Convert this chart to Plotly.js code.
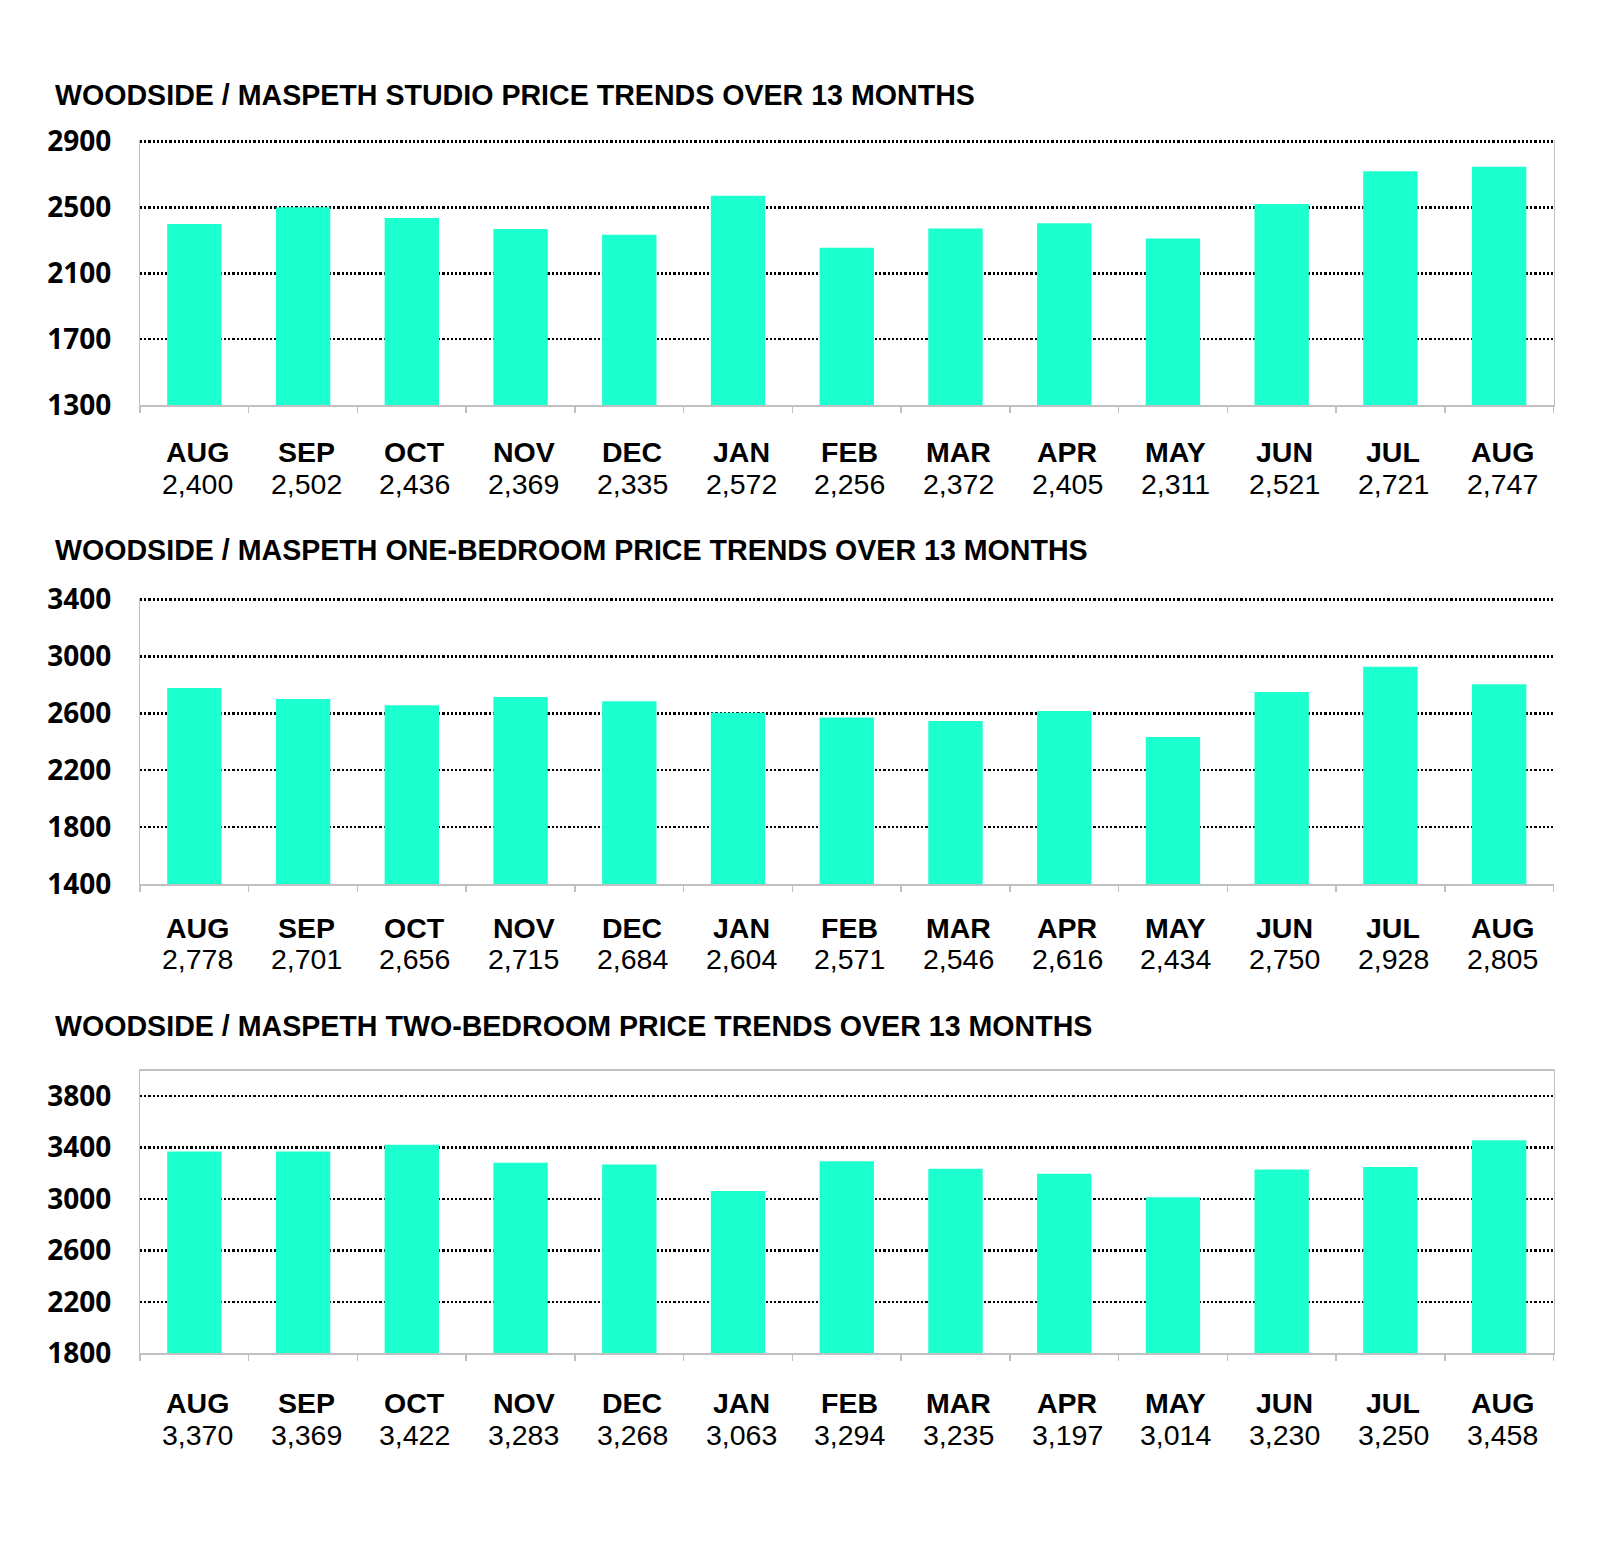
<!DOCTYPE html>
<html>
<head>
<meta charset="utf-8">
<script src="https://cdn.plot.ly/plotly-3.0.1.min.js"></script>
<style>html,body{margin:0;padding:0;background:#fff;}#chart{width:1600px;height:1547px;}</style>
</head>
<body>
<div id="chart"></div>
<script>
// ---- data ----
const months = ["AUG","SEP","OCT","NOV","DEC","JAN","FEB","MAR","APR","MAY","JUN","JUL","AUG"];
const studioPrices = [2400,2502,2436,2369,2335,2572,2256,2372,2405,2311,2521,2721,2747];
const oneBedPrices = [2778,2701,2656,2715,2684,2604,2571,2546,2616,2434,2750,2928,2805];
const twoBedPrices = [3370,3369,3422,3283,3268,3063,3294,3235,3197,3014,3230,3250,3458];
const titles = [
  "WOODSIDE / MASPETH STUDIO PRICE TRENDS OVER 13 MONTHS",
  "WOODSIDE / MASPETH ONE-BEDROOM PRICE TRENDS OVER 13 MONTHS",
  "WOODSIDE / MASPETH TWO-BEDROOM PRICE TRENDS OVER 13 MONTHS"
];
const yTicks1 = [1300,1700,2100,2500,2900];
const yTicks2 = [1400,1800,2200,2600,3000,3400];
const yTicks3 = [1800,2200,2600,3000,3400,3800];

// ---- layout geometry (pixels) ----
const W = 1600, H = 1547;
const BAR = '#1cffce', GRAY = '#c0c0c0';
const panels = [
  {vals: studioPrices, ticks: yTicks1, range:[1300,2912], top:139.7, bottom:405, titleY:95, mOff:46.7, vOff:79, topLine:false, rightLine:true},
  {vals: oneBedPrices, ticks: yTicks2, range:[1400,3414], top:597.5, bottom:884, titleY:550, mOff:44.3, vOff:75, topLine:false, rightLine:false},
  {vals: twoBedPrices, ticks: yTicks3, range:[1800,4000], top:1070.5, bottom:1353.3, titleY:1025.5, mOff:50, vOff:81.7, topLine:true, rightLine:true}
];
const xL = 140, xR = 1553.5;
const fy = px => 1 - px / H;
const fmt = v => v.toLocaleString('en-US');

const data = [];
const layout = {
  width: W, height: H,
  margin: {l:0, r:0, t:0, b:0},
  paper_bgcolor: '#fff', plot_bgcolor: '#fff',
  showlegend: false,
  annotations: []
};
const xs = months.map((m, i) => i);
const boundaries = months.map((m, i) => i - 0.5).concat([months.length - 0.5]);
const FONT = 'Liberation Sans, Arial, sans-serif';

panels.forEach((p, k) => {
  const n = k === 0 ? '' : String(k + 1);
  data.push({
    type: 'bar', x: xs, y: p.vals, xaxis: 'x' + n, yaxis: 'y' + n,
    marker: {color: BAR, line: {width: 0}}, width: 0.5, hoverinfo: 'skip'
  });
  layout['xaxis' + n] = {
    domain: [xL / W, xR / W], anchor: 'y' + n,
    range: [-0.5, months.length - 0.5],
    tickmode: 'array', tickvals: boundaries, showticklabels: false,
    ticks: 'outside', ticklen: 6, tickwidth: 1.5, tickcolor: GRAY,
    showgrid: false, zeroline: false,
    showline: true, linecolor: GRAY, linewidth: 1.5, mirror: p.topLine,
    fixedrange: true
  };
  layout['yaxis' + n] = {
    domain: [fy(p.bottom), fy(p.top)], anchor: 'x' + n,
    range: p.range, tickmode: 'array', tickvals: p.ticks,
    ticks: '', ticklabelstandoff: 22,
    tickfont: {family: 'Open Sans, sans-serif', size: 28, color: '#000', weight: 'bold'},
    showgrid: true, gridcolor: '#000', gridwidth: 2.5, griddash: '2.2px,2px',
    zeroline: false,
    showline: true, linecolor: GRAY, linewidth: 1.2, mirror: p.rightLine,
    fixedrange: true
  };
  layout.annotations.push({
    xref: 'paper', yref: 'paper', x: 53 / W, y: fy(p.titleY),
    xanchor: 'left', yanchor: 'middle', showarrow: false,
    text: '<b>' + titles[k] + '</b>',
    font: {family: FONT, size: 28.6, color: '#000'}
  });
  months.forEach((m, i) => {
    layout.annotations.push({
      xref: 'x' + n, yref: 'paper', x: i, y: fy(p.bottom + p.mOff), xshift: 3,
      xanchor: 'center', yanchor: 'middle', showarrow: false,
      text: '<b>' + m + '</b>',
      font: {family: FONT, size: 28.5, color: '#000'}
    });
    layout.annotations.push({
      xref: 'x' + n, yref: 'paper', x: i, y: fy(p.bottom + p.vOff), xshift: 3,
      xanchor: 'center', yanchor: 'middle', showarrow: false,
      text: fmt(p.vals[i]),
      font: {family: FONT, size: 28.5, color: '#000'}
    });
  });
});

Plotly.newPlot('chart', data, layout, {displayModeBar: false, staticPlot: true});
</script>
</body>
</html>
